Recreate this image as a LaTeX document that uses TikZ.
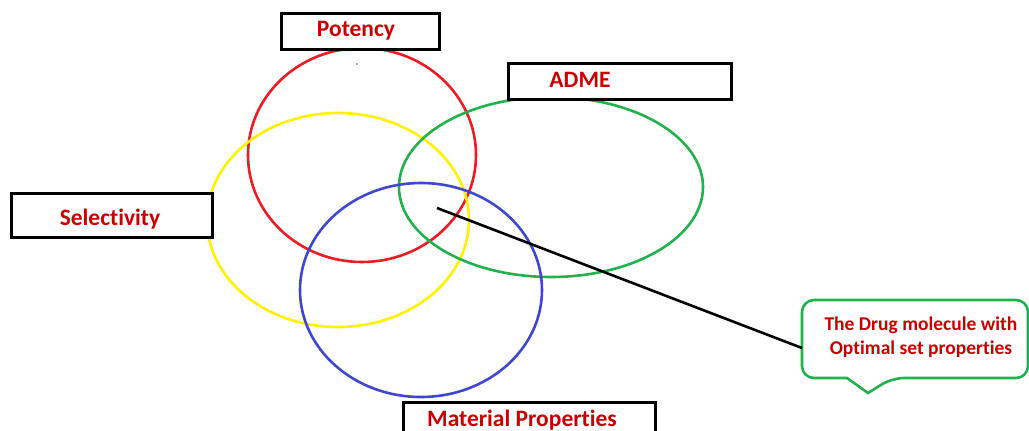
\documentclass[tikz,border=0pt]{standalone}
\usepackage{fontspec}
\setmainfont{Carlito}[Ligatures={NoCommon}]
\definecolor{txtred}{HTML}{C80000}
\definecolor{pred}{HTML}{ED1C24}
\definecolor{pyellow}{HTML}{FFF200}
\definecolor{pgreen}{HTML}{22B14C}
\definecolor{pblue}{HTML}{3F48CC}
\begin{document}
\begin{tikzpicture}[x=1pt,y=-1pt,
  lbl/.style={draw=black,line width=3pt,fill=white,inner sep=0pt,anchor=north west},
  ltxt/.style={text=txtred,font=\bfseries\fontsize{23.5}{26}\selectfont},
  ring/.style={line width=2.6pt}]
\useasboundingbox (0,0) rectangle (1029,431);
\clip (0,0) rectangle (1029,431);
\fill[white] (0,0) rectangle (1029,431);
% circles
\draw[ring,pred] (362,155) ellipse [x radius=114, y radius=107];
\draw[ring,pyellow] (338,220) ellipse [x radius=131, y radius=107];
\draw[ring,pgreen] (551,187) ellipse [x radius=152, y radius=90];
\draw[ring,pblue] (421,290) ellipse [x radius=121, y radius=107];
\fill[black!70] (357,64) circle (0.8);
% label boxes
\node[lbl,minimum width=158pt,minimum height=36pt] (potbox) at (280,12) {};
\node[ltxt] (pot) at (356,31) {Potency};
\node[lbl,minimum width=223pt,minimum height=36pt] (admebox) at (507,62) {};
\node[ltxt] (adme) at (580,80) {ADME};
\node[lbl,minimum width=201pt,minimum height=44pt] (selbox) at (10,192) {};
\node[ltxt] (sel) at (110,219) {Selectivity};
\node[lbl,minimum width=252pt,minimum height=44pt] (matbox) at (402,401) {};
\node[ltxt] (mat) at (522,420) {Material Properties};
% callout
\draw[pgreen,line width=2.6pt,fill=white] (802,340) [rounded corners=12] -- (802,300) -- (1028,300) -- (1028,378) -- (892,378) [sharp corners] -- (868,393) -- (847,378) [rounded corners=12] -- (802,378) -- cycle;
\coordinate (cw) at (802,348);
\node[text=txtred,font=\bfseries\fontsize{19.5}{24}\selectfont,align=center] (call) at (921,337) {The Drug molecule with\\ Optimal set properties};
\coordinate (ov) at (437,208);
\draw[black,line width=2.6pt] (ov) -- (cw);
\end{tikzpicture}
\end{document}
